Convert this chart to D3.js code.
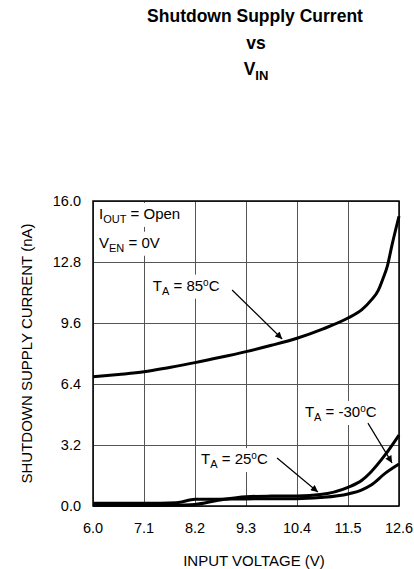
<!DOCTYPE html>
<meta charset="utf-8">
<style>
body { margin: 0; background: #fff; font-family: Arial, "Liberation Sans", Helvetica, sans-serif; }
.grid line { stroke: #555; stroke-width: 1; shape-rendering: crispEdges; }
.tick-label { font-size: 14.5px; fill: #000; }
.curve { fill: none; stroke: #000; stroke-width: 3; }
.note { font-size: 15px; fill: #000; }
</style>
<body>
<script src="https://cdn.jsdelivr.net/npm/d3@7/dist/d3.min.js"></script>
<script>

// tick labels
var xTicks = [6.0, 7.1, 8.2, 9.3, 10.4, 11.5, 12.6];
var yTicks = [0.0, 3.2, 6.4, 9.6, 12.8, 16.0];

// T_A = 85C
var vin85 = [6.0, 6.55, 7.1, 7.65, 8.2, 8.75, 9.3, 9.85, 10.4, 10.95, 11.5, 11.8, 12.0, 12.15, 12.25, 12.35, 12.45, 12.6];
var cur85 = [6.78, 6.9, 7.04, 7.27, 7.52, 7.8, 8.1, 8.43, 8.8, 9.28, 9.86, 10.3, 10.8, 11.3, 11.9, 12.6, 13.7, 15.2];

// T_A = 25C
var vin25 = [6.0, 7.1, 7.7, 8.2, 8.7, 9.3, 9.85, 10.4, 10.9, 11.5, 11.8, 12.0, 12.3, 12.6];
var cur25 = [0.04, 0.03, 0.04, 0.08, 0.3, 0.49, 0.52, 0.53, 0.6, 0.98, 1.35, 1.8, 2.68, 3.72];

// T_A = -30C
var vinM30 = [6.0, 7.1, 7.8, 8.2, 8.7, 9.3, 9.85, 10.4, 10.9, 11.5, 11.8, 12.0, 12.3, 12.6];
var curM30 = [0.14, 0.14, 0.17, 0.35, 0.36, 0.37, 0.38, 0.38, 0.44, 0.63, 0.85, 1.1, 1.71, 2.2];

var width = 414, height = 569;
var pLeft = 93, pRight = 399, pTop = 201, pBottom = 506;

var x = d3.scaleLinear().domain([6.0, 12.6]).range([pLeft, pRight]);
var y = d3.scaleLinear().domain([0, 16]).range([pBottom, pTop]);

var svg = d3.select("body").append("svg")
    .attr("width", width)
    .attr("height", height);

// title
var title = svg.append("g")
    .attr("font-weight", "bold")
    .attr("font-size", "17.5px")
    .attr("text-anchor", "middle");
title.append("text").attr("x", 255).attr("y", 22).text("Shutdown Supply Current");
title.append("text").attr("x", 256).attr("y", 49).text("vs");
var vt = title.append("text").attr("x", 256).attr("y", 75);
vt.append("tspan").text("V");
vt.append("tspan").attr("font-size", "13px").attr("dy", 5).text("IN");

// gridlines
var grid = svg.append("g").attr("class", "grid");
grid.selectAll(".gx").data(xTicks).enter().append("line")
    .attr("x1", function(d) { return x(d); })
    .attr("x2", function(d) { return x(d); })
    .attr("y1", pTop).attr("y2", pBottom);
grid.selectAll(".gy").data(yTicks).enter().append("line")
    .attr("x1", pLeft).attr("x2", pRight)
    .attr("y1", function(d) { return y(d); })
    .attr("y2", function(d) { return y(d); });

// tick labels
svg.selectAll(".xl").data(xTicks).enter().append("text")
    .attr("class", "tick-label")
    .attr("x", function(d) { return x(d); })
    .attr("y", 533)
    .attr("text-anchor", "middle")
    .text(function(d) { return d.toFixed(1); });
svg.selectAll(".yl").data(yTicks).enter().append("text")
    .attr("class", "tick-label")
    .attr("x", 81)
    .attr("y", function(d) { return y(d) + 5; })
    .attr("text-anchor", "end")
    .text(function(d) { return d.toFixed(1); });

// axis titles
svg.append("text")
    .attr("x", 254).attr("y", 566)
    .attr("text-anchor", "middle")
    .attr("font-size", "15px")
    .text("INPUT VOLTAGE (V)");
svg.append("text")
    .attr("transform", "translate(32," + ((pTop + pBottom) / 2) + ") rotate(-90)")
    .attr("text-anchor", "middle")
    .attr("font-size", "15px")
    .text("SHUTDOWN SUPPLY CURRENT (nA)");

// annotation labels with white boxes
function label(g, vx, vy, parts) {
  var t = g.append("text").attr("class", "note").attr("x", x(vx)).attr("y", y(vy));
  parts.forEach(function(p) {
    var s = t.append("tspan").text(p.t);
    if (p.sub) s.attr("font-size", "11px").attr("dy", 4);
    if (p.sup) s.attr("font-size", "10px").attr("dy", p.dy);
    if (p.dy && !p.sup && !p.sub) s.attr("dy", p.dy);
  });
  var b = t.node().getBBox();
  g.insert("rect", "text")
    .attr("x", b.x - 4).attr("y", b.y - 2)
    .attr("width", b.width + 8).attr("height", b.height + 4)
    .attr("fill", "#fff");
  return t;
}

var notes = svg.append("g");
label(notes.append("g"), 6.13, 15.06, [{t: "I"}, {t: "OUT", sub: true}, {t: " = Open", dy: -4}]);
label(notes.append("g"), 6.13, 13.55, [{t: "V"}, {t: "EN", sub: true}, {t: " = 0V", dy: -4}]);
label(notes.append("g"), 7.29, 11.3, [{t: "T"}, {t: "A", sub: true}, {t: " = 85", dy: -4}, {t: "o", sup: true, dy: -5}, {t: "C", dy: 5}]);
label(notes.append("g"), 10.57, 4.67, [{t: "T"}, {t: "A", sub: true}, {t: " = -30", dy: -4}, {t: "o", sup: true, dy: -5}, {t: "C", dy: 5}]);
label(notes.append("g"), 8.33, 2.2, [{t: "T"}, {t: "A", sub: true}, {t: " = 25", dy: -4}, {t: "o", sup: true, dy: -5}, {t: "C", dy: 5}]);

// plot border
svg.append("rect")
    .attr("x", pLeft).attr("y", pTop)
    .attr("width", pRight - pLeft).attr("height", pBottom - pTop)
    .attr("fill", "none").attr("stroke", "#000").attr("stroke-width", 1.5);

// curves
var line = d3.line()
    .x(function(d) { return x(d[0]); })
    .y(function(d) { return y(d[1]); })
    .curve(d3.curveMonotoneX);

[[vin85, cur85], [vin25, cur25], [vinM30, curM30]].forEach(function(s) {
  svg.append("path")
      .attr("class", "curve")
      .attr("d", line(d3.zip(s[0], s[1])));
});

// arrows
svg.append("defs").append("marker")
    .attr("id", "ah")
    .attr("viewBox", "0 0 10 10")
    .attr("refX", 10).attr("refY", 5)
    .attr("markerWidth", 9).attr("markerHeight", 7)
    .attr("markerUnits", "userSpaceOnUse")
    .attr("orient", "auto")
  .append("path")
    .attr("d", "M0,0 L10,5 L0,10 z")
    .attr("fill", "#000");

var arrows = [
  [9.0, 11.33, 10.08, 8.76],
  [11.93, 4.35, 12.45, 2.26],
  [9.97, 2.52, 10.85, 0.73]
];
svg.selectAll(".arrow").data(arrows).enter().append("line")
    .attr("x1", function(d) { return x(d[0]); })
    .attr("y1", function(d) { return y(d[1]); })
    .attr("x2", function(d) { return x(d[2]); })
    .attr("y2", function(d) { return y(d[3]); })
    .attr("stroke", "#000")
    .attr("stroke-width", 1.2)
    .attr("marker-end", "url(#ah)");

</script>
